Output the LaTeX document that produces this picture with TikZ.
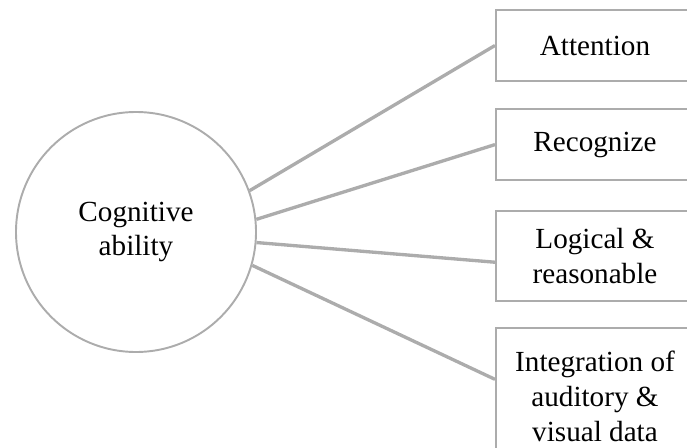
\documentclass[tikz,border=0pt]{standalone}
\usepackage{fontspec}
\setmainfont{Liberation Serif}
\usetikzlibrary{shapes, positioning}
\definecolor{linegray}{RGB}{172,172,172}

\begin{document}
\begin{tikzpicture}[node distance=0.52cm]
        \tikzstyle{bigcircle} = [circle, minimum size = 4.8cm, text centered, draw=linegray, line width=1.1pt, align=center, font=\fontsize{16.6}{19.9}\selectfont]
        \tikzstyle{itembox} = [rectangle, minimum width = 3.96cm, text centered, draw=linegray, line width=1.2pt, align=center, font=\fontsize{16.6}{19.9}\selectfont]
        \tikzstyle{link} = [draw=linegray, line width=1.9pt]

        \clip (0,0) rectangle (13.74,8.94);

        \node (Cog) [bigcircle] at (2.72,4.3) {Cognitive\\ability};
        \node (Att) [itembox, minimum height = 1.42cm] at (11.9,8.03) {Attention};
        \node (Rec) [itembox, minimum height = 1.42cm, below=0.52cm of Att] {Recognize};
        \node (Log) [itembox, minimum height = 1.8cm, below=0.58cm of Rec] {Logical \&\\reasonable};
        \node (Int) [itembox, minimum height = 2.72cm, below=0.5cm of Log] {Integration of\\auditory \&\\visual data};

        \draw[link] (Cog.20) -- (Att.west);
        \draw[link] (Cog.6.5) -- (Rec.west);
        \draw[link] (Cog.-5) -- ([yshift=-0.12cm]Log.west);
        \draw[link] (Cog.-16) -- ([yshift=0.34cm]Int.west);

    \end{tikzpicture}
\end{document}
